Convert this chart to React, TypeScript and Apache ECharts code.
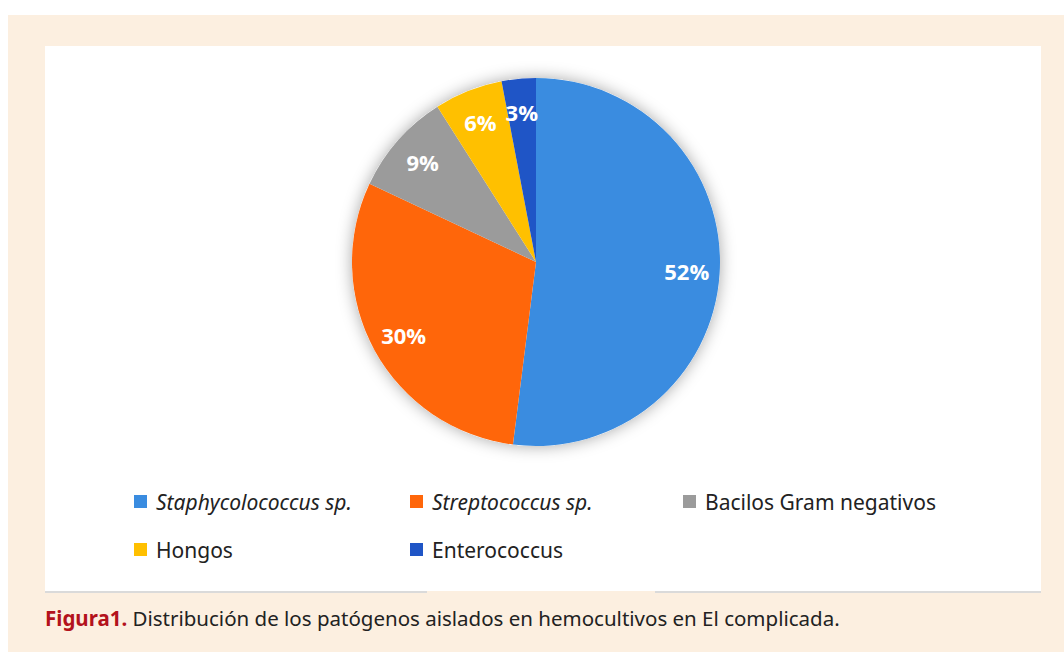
import React, { useEffect, useRef } from "react";
import * as echarts from "echarts";

const categories = [
  "Staphycolococcus sp.",
  "Streptococcus sp.",
  "Bacilos Gram negativos",
  "Hongos",
  "Enterococcus",
];
const values = [52, 30, 9, 6, 3];
const colors = ["#3a8ce0", "#ff660a", "#9b9b9b", "#ffc000", "#1f55c6"];
const italicNames = ["Staphycolococcus sp.", "Streptococcus sp."];
const legendColumns = [
  ["Staphycolococcus sp.", "Hongos"],
  ["Streptococcus sp.", "Enterococcus"],
  ["Bacilos Gram negativos"],
];
const captionBold = "Figura1.";
const captionText = " Distribución de los patógenos aislados en hemocultivos en El complicada.";

const FONT = "'Noto Sans', 'Open Sans', sans-serif";

export default function App() {
  const ref = useRef<HTMLDivElement>(null);
  useEffect(() => {
    if (!ref.current) return;
    const chart = echarts.init(ref.current, undefined, { renderer: "svg" });
    const data = categories.map((name, i) => ({
      name,
      value: values[i],
      itemStyle: { color: colors[i] },
    }));
    const legendLefts = [134, 410, 683];
    const legends = legendColumns.map((col, ci) => ({
      orient: "vertical",
      left: legendLefts[ci],
      top: 491,
      padding: 0,
      itemGap: 27,
      itemWidth: 13,
      itemHeight: 13,
      icon: "rect",
      selectedMode: false,
      data: col.map((n) => ({
        name: n,
        itemStyle: { color: colors[categories.indexOf(n)] },
      })),
      formatter: (name: string) =>
        italicNames.includes(name) ? `{i|${name}}` : `{n|${name}}`,
      textStyle: {
        padding: [0, 0, 0, 4],
        rich: {
          i: { fontFamily: FONT, fontSize: 21, fontStyle: "italic", color: "#222" },
          n: { fontFamily: FONT, fontSize: 21, color: "#222" },
        },
      },
    }));
    chart.setOption({
      animation: false,
      backgroundColor: "#ffffff",
      graphic: [
        { type: "rect", z: 0, shape: { x: 8, y: 15, width: 1056, height: 637 }, style: { fill: "#fcefe0" }, silent: true },
        { type: "rect", z: 1, shape: { x: 45, y: 46, width: 996, height: 545 }, style: { fill: "#ffffff" }, silent: true },
        { type: "line", z: 1, shape: { x1: 45, y1: 592, x2: 427, y2: 592 }, style: { stroke: "#dadada", lineWidth: 2 }, silent: true },
        { type: "line", z: 1, shape: { x1: 655, y1: 592, x2: 1041, y2: 592 }, style: { stroke: "#dadada", lineWidth: 2 }, silent: true },
        {
          type: "text",
          z: 2,
          x: 45,
          y: 618,
          style: {
            text: `{b|${captionBold}}{r|${captionText}}`,
            verticalAlign: "middle",
            rich: {
              b: { fontFamily: FONT, fontSize: 20.5, fontWeight: "bold", fill: "#b3121c" },
              r: { fontFamily: FONT, fontSize: 20.5, fill: "#222222" },
            },
          },
        },
      ],
      legend: legends,
      series: [
        {
          type: "pie",
          name: "shadow",
          center: [536, 262],
          radius: 184,
          silent: true,
          label: { show: false },
          labelLine: { show: false },
          itemStyle: { color: "#ffffff", shadowBlur: 16, shadowColor: "rgba(0,0,0,0.35)" },
          data: [{ name: "_shadow", value: 1 }],
          z: 2,
        },
        {
          type: "pie",
          name: "Patógenos",
          center: [536, 262],
          radius: 184,
          startAngle: 90,
          clockwise: true,
          label: { show: false },
          labelLine: { show: false },
          data,
          z: 3,
        },
        {
          type: "pie",
          name: "labels",
          center: [536, 262],
          radius: [112, 184],
          startAngle: 90,
          clockwise: true,
          silent: true,
          itemStyle: { color: "rgba(0,0,0,0)" },
          labelLine: { show: false },
          label: {
            show: true,
            position: "inside",
            formatter: "{c}%",
            color: "#ffffff",
            fontFamily: "'Open Sans', sans-serif",
            fontWeight: "bold",
            fontSize: 22,
          },
          data: categories.map((name, i) => ({ name, value: values[i] })),
          z: 4,
        },
      ],
    });
    return () => chart.dispose();
  }, []);
  return (
    <div
      ref={ref}
      style={{ position: "fixed", left: 0, top: 0, width: 1064, height: 652 }}
    />
  );
}
